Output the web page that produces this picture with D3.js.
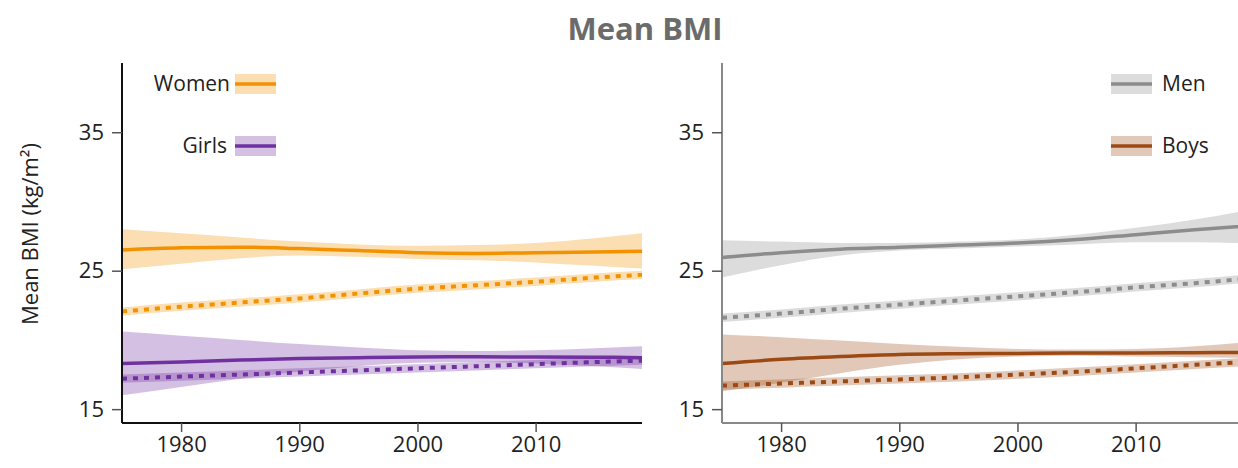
<!DOCTYPE html>
<html>
<head>
<meta charset="utf-8">
<script src="https://cdn.jsdelivr.net/npm/d3@7"></script>
<style>
  body { margin: 0; background: #fff; }
  svg text { font-family: "Open Sans", sans-serif; }
</style>
</head>
<body>
<svg id="chart" width="1238" height="468"></svg>
<script>
const years = [1975, 1980, 1985, 1990, 1995, 2000, 2005, 2010, 2015, 2019];

// adults (solid) with uncertainty bands
const women = [26.5, 26.65, 26.7, 26.6, 26.45, 26.3, 26.25, 26.3, 26.35, 26.4];
const womenHi = [28.0, 27.7, 27.4, 27.1, 26.9, 26.8, 26.85, 27.0, 27.35, 27.7];
const womenLo = [25.1, 25.5, 25.9, 26.1, 26.0, 25.85, 25.75, 25.6, 25.35, 25.15];
const men = [25.96, 26.3, 26.55, 26.7, 26.85, 27.0, 27.25, 27.6, 27.95, 28.2];
const menHi = [27.2, 27.1, 27.0, 27.0, 27.1, 27.25, 27.6, 28.1, 28.7, 29.3];
const menLo = [24.5, 25.4, 26.1, 26.45, 26.6, 26.75, 26.9, 27.05, 27.05, 27.0];

// children (solid) with bands
const girls = [18.3, 18.4, 18.55, 18.65, 18.72, 18.77, 18.78, 18.77, 18.75, 18.72];
const girlsHi = [20.6, 20.3, 20.0, 19.7, 19.45, 19.25, 19.2, 19.25, 19.4, 19.55];
const girlsLo = [16.0, 16.6, 17.2, 17.7, 18.1, 18.35, 18.4, 18.3, 18.1, 17.9];
const boys = [18.3, 18.6, 18.8, 18.95, 19.0, 19.02, 19.05, 19.05, 19.08, 19.1];
const boysHi = [20.4, 20.2, 19.95, 19.7, 19.5, 19.35, 19.3, 19.35, 19.55, 19.8];
const boysLo = [16.3, 16.9, 17.6, 18.2, 18.6, 18.8, 18.85, 18.8, 18.75, 18.7];

// comparison series (dotted)
const womenRef = [22.05, 22.4, 22.7, 23.0, 23.35, 23.7, 23.95, 24.2, 24.5, 24.7];
const girlsRef = [17.2, 17.35, 17.5, 17.65, 17.8, 17.95, 18.1, 18.25, 18.4, 18.5];
const menRef = [21.6, 21.9, 22.25, 22.55, 22.85, 23.15, 23.45, 23.8, 24.1, 24.4];
const boysRef = [16.7, 16.85, 17.0, 17.15, 17.3, 17.5, 17.7, 17.95, 18.2, 18.4];
const refBand = 0.3;

const yTicks = [15, 25, 35];
const xTicks = [1980, 1990, 2000, 2010];

const svg = d3.select("#chart");
const plotTop = 63, plotBottom = 423, panelW = 520;

svg.append("text")
  .attr("x", 645).attr("y", 40)
  .attr("text-anchor", "middle")
  .attr("font-size", 31).attr("font-weight", "bold")
  .attr("fill", "#6b6b6b")
  .text("Mean BMI");

svg.append("text")
  .attr("transform", "translate(38,234) rotate(-90)")
  .attr("text-anchor", "middle")
  .attr("font-size", 22).attr("fill", "#222")
  .text("Mean BMI (kg/m²)");

const y = d3.scaleLinear().domain([14, 40]).range([plotBottom, plotTop]);

function panel(left, axisColor, groups, legend) {
  const x = d3.scaleLinear().domain([1975, 2019]).range([left, left + panelW]);
  const g = svg.append("g");

  const area = d3.area().x((d, i) => x(years[i])).y0(d => y(d[0])).y1(d => y(d[1])).curve(d3.curveMonotoneX);
  const line = d3.line().x((d, i) => x(years[i])).y(d => y(d)).curve(d3.curveMonotoneX);

  groups.forEach(s => {
    g.append("path")
      .attr("d", area(s.lo.map((v, i) => [v, s.hi[i]])))
      .attr("fill", s.color).attr("fill-opacity", 0.3);
    g.append("path")
      .attr("d", area(s.ref.map(v => [v - refBand, v + refBand])))
      .attr("fill", s.color).attr("fill-opacity", 0.3);
    g.append("path")
      .attr("d", line(s.ref))
      .attr("fill", "none").attr("stroke", s.color)
      .attr("stroke-width", 4).attr("stroke-dasharray", "5,6");
    g.append("path")
      .attr("d", line(s.mean))
      .attr("fill", "none").attr("stroke", s.color).attr("stroke-width", 3.5);
  });

  const yAxis = svg.append("g")
    .attr("transform", `translate(${left},0)`)
    .call(d3.axisLeft(y).tickValues(yTicks).tickSize(10).tickPadding(8));
  const xAxis = svg.append("g")
    .attr("transform", `translate(0,${plotBottom})`)
    .call(d3.axisBottom(x).tickValues(xTicks).tickFormat(d3.format("d")).tickSize(9).tickPadding(4));
  [yAxis, xAxis].forEach(a => {
    a.select(".domain").attr("stroke", axisColor).attr("stroke-width", 2);
    a.selectAll(".tick line").attr("stroke", "#555").attr("stroke-width", 1.5);
    a.selectAll(".tick text").attr("font-size", 22).attr("fill", "#222")
      .attr("font-family", "Open Sans, sans-serif");
  });
  yAxis.select(".domain").attr("d", `M0,${plotTop}V${plotBottom}`);
  xAxis.select(".domain").attr("d", `M${left},0H${left + panelW}`);

  legend.forEach(l => {
    g.append("rect")
      .attr("x", l.sx).attr("y", l.sy - 10).attr("width", 41).attr("height", 20)
      .attr("fill", l.color).attr("fill-opacity", 0.3);
    g.append("line")
      .attr("x1", l.sx).attr("x2", l.sx + 41).attr("y1", l.sy).attr("y2", l.sy)
      .attr("stroke", l.color).attr("stroke-width", 3.5);
    g.append("text")
      .attr("x", l.tx).attr("y", l.sy + 7)
      .attr("text-anchor", l.anchor)
      .attr("font-size", 21).attr("fill", "#222")
      .text(l.name);
  });
}

const orange = "#f39200", purple = "#7030a0", grey = "#8c8c8c", brown = "#9c4a14";

panel(122, "#111", [
  { mean: women, hi: womenHi, lo: womenLo, ref: womenRef, color: orange },
  { mean: girls, hi: girlsHi, lo: girlsLo, ref: girlsRef, color: purple }
], [
  { name: "Women", color: orange, sx: 235, sy: 84, tx: 230, anchor: "end" },
  { name: "Girls", color: purple, sx: 235, sy: 146, tx: 227, anchor: "end" }
]);

panel(722, "#888", [
  { mean: men, hi: menHi, lo: menLo, ref: menRef, color: grey },
  { mean: boys, hi: boysHi, lo: boysLo, ref: boysRef, color: brown }
], [
  { name: "Men", color: grey, sx: 1111, sy: 84, tx: 1162, anchor: "start" },
  { name: "Boys", color: brown, sx: 1111, sy: 146, tx: 1162, anchor: "start" }
]);
</script>
</body>
</html>
